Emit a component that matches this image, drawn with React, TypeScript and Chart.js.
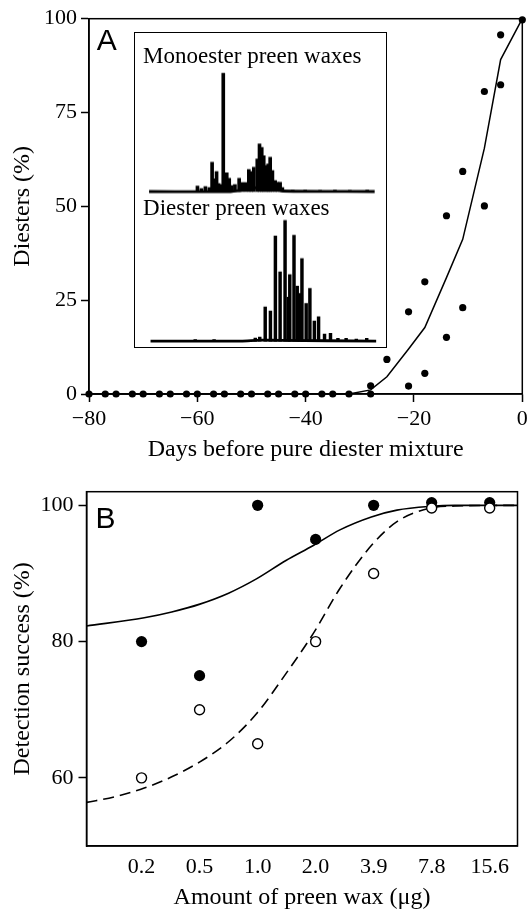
import React, { useEffect, useRef } from "react";
import { Chart, registerables } from "chart.js";

Chart.register(...registerables);

const SERIF = "'Liberation Serif', 'Times New Roman', Times, serif";
const SANS = "'Liberation Sans', Arial, Helvetica, sans-serif";

// ---------- Panel A: diesters over time ----------
const obsDays = [
  -80, -77, -75, -72, -70, -67, -65, -62, -60, -57, -55, -52, -50, -47, -45, -42, -40, -37, -35, -32,
  -28, -28, -25, -21, -21, -18, -18, -14, -14, -11, -11, -7, -7, -4, -4, 0,
];
const obsDiesters = [
  0, 0, 0, 0, 0, 0, 0, 0, 0, 0, 0, 0, 0, 0, 0, 0, 0, 0, 0, 0,
  0, 2.2, 9.2, 21.9, 2.1, 29.9, 5.5, 47.5, 15.1, 59.3, 23.0, 80.6, 50.1, 95.7, 82.4, 99.7,
];
const fitDays = [-80, -32, -28, -25, -21, -18, -14, -11, -7, -4, 0];
const fitDiesters = [0, 0, 1.1, 4.6, 12.0, 17.7, 31.0, 41.2, 65.5, 89.1, 100];
const dayTicks = [-80, -60, -40, -20, 0];
const diesterTicks = [0, 25, 50, 75, 100];

// ---------- Inset: chromatograms (retention position 0-100, relative intensity) ----------
const monoTimes = [
  24.6, 26.2, 27.8, 29.4, 30.5, 31.5, 32.3, 33.1, 33.9, 35.0, 36.4, 37.4, 38.4, 39.7, 41.4, 42.7,
  44.0, 45.3, 46.3, 47.3, 48.7, 49.6, 50.5, 51.3, 52.3, 53.1, 53.9, 54.8, 55.9, 56.8, 57.9, 58.8,
  63, 68, 74, 80, 86, 93,
];
const monoIntensity = [
  4.5, 2.5, 4.2, 3.4, 24.7, 10.7, 16.8, 6.7, 5.9, 100, 15.8, 11.2, 5.1, 5.9, 11.2, 7.6,
  7.6, 18.5, 16.8, 20.5, 27.5, 40.2, 37.3, 30.3, 21.9, 23.3, 28.9, 17.7, 9.3, 7.8, 7.8, 3.4,
  1.2, 1.2, 1.0, 1.2, 1.0, 1.2,
];
const monoBaseTimes = [5.1, 38, 42, 46, 49, 51, 53, 56, 59, 96.0];
const monoBaseLevel = [0, 0, 1.0, 2.2, 3.4, 3.6, 3.0, 1.8, 0.4, 0];

const diTimes = [
  23.7, 31.3, 47.9, 49.7, 51.9, 54.0, 56.0, 57.9, 59.9, 61.2, 61.8, 63.5, 64.8, 65.7, 66.7,
  68.4, 69.9, 71.7, 73.4, 75.8, 78.2, 81.2, 84.5, 88.6, 92.8,
];
const diIntensity = [
  1.2, 1.2, 2.5, 3.3, 28.3, 25, 87, 57.3, 100, 36.4, 55.1, 87.6, 45.5, 39.4, 68.3,
  31.2, 43.6, 16.5, 20.1, 5.8, 6.4, 2.2, 2.2, 1.7, 2.2,
];
const diBaseTimes = [5.7, 42, 50, 58, 96.6];
const diBaseLevel = [0, 0, 0.8, 0.5, 0];

// ---------- Panel B: detection success ----------
const doses = [0.244, 0.488, 0.977, 1.953, 3.906, 7.813, 15.625];
const doseLabels = ["0.2", "0.5", "1.0", "2.0", "3.9", "7.8", "15.6"];
const detectionFilled = [80, 75, 100, 95, 100, 100.4, 100.4];
const detectionOpen = [60, 70, 65, 80, 90, 99.6, 99.6];
const solidCurveX = [0.1264, 0.252, 0.35, 0.49, 0.69, 0.963, 1.37, 1.9, 2.61, 3.8, 5.16, 7.7, 10.3, 21.79];
const solidCurveY = [82.3, 83.5, 84.35, 85.5, 87.1, 89.2, 91.9, 94.1, 96.4, 98.3, 99.3, 99.85, 100, 100];
const dashedCurveX = [0.1264, 0.176, 0.252, 0.35, 0.49, 0.69, 0.963, 1.37, 1.9, 2.61, 3.8, 5.16, 7.7, 10.3, 21.79];
const dashedCurveY = [56.4, 57.2, 58.5, 60.15, 62.35, 65.3, 69.4, 75.3, 81.2, 87.8, 94.1, 97.6, 99.6, 99.9, 100];
const successTicks = [60, 80, 100];

const pairs = (xs: number[], ys: number[]) => xs.map((x, i) => ({ x, y: ys[i] }));

const framePlugin = {
  id: "frame",
  beforeDatasetsDraw(chart: any) {
    const { ctx, chartArea: a } = chart;
    ctx.save();
    ctx.strokeStyle = "#000";
    ctx.lineWidth = 1.5;
    ctx.strokeRect(a.left, a.top, a.right - a.left, a.bottom - a.top);
    ctx.restore();
  },
};

const tickGrid = {
  drawOnChartArea: false,
  drawTicks: true,
  tickLength: 8,
  tickWidth: 1.5,
  tickColor: "#000",
  color: "#000",
};
const axisBorder = { display: true, color: "#000", width: 1.5 };
const tickFont = { family: SERIF, size: 22 };
const titleFont = { family: SERIF, size: 24 };
const minusFmt = (v: number) => (v < 0 ? "\u2212" + Math.abs(v) : String(v));

export default function App() {
  const aRef = useRef<HTMLCanvasElement>(null);
  const bRef = useRef<HTMLCanvasElement>(null);
  const iRef = useRef<HTMLCanvasElement>(null);

  useEffect(() => {
    document.body.style.margin = "0";
    document.body.style.overflow = "hidden";
    const charts: Chart[] = [];

    charts.push(
      new Chart(aRef.current!, {
        type: "scatter",
        data: {
          datasets: [
            {
              type: "scatter",
              data: pairs(obsDays, obsDiesters),
              pointRadius: 3.6,
              pointBackgroundColor: "#000",
              pointBorderWidth: 0,
              clip: false,
              order: 0,
            } as any,
            {
              type: "line",
              data: pairs(fitDays, fitDiesters),
              borderColor: "#000",
              borderWidth: 1.5,
              pointRadius: 0,
              tension: 0,
              clip: false,
              order: 1,
            } as any,
          ],
        },
        options: {
          animation: false,
          responsive: true,
          maintainAspectRatio: false,
          layout: { padding: { top: 18.7, right: 5.7, bottom: 0, left: 0 } },
          plugins: { legend: { display: false }, tooltip: { enabled: false } },
          scales: {
            x: {
              type: "linear",
              min: -80,
              max: 0,
              afterBuildTicks: (s: any) => {
                s.ticks = dayTicks.map((v) => ({ value: v }));
              },
              afterFit: (s: any) => {
                s.height = 86;
                s.paddingLeft = 0;
                s.paddingRight = 0;
              },
              grid: tickGrid,
              border: axisBorder,
              ticks: {
                color: "#000",
                font: tickFont,
                padding: 4,
                maxRotation: 0,
                autoSkip: false,
                callback: (v: any) => minusFmt(Number(v)),
              },
              title: {
                display: true,
                text: "Days before pure diester mixture",
                color: "#000",
                font: titleFont,
                padding: { top: 0, bottom: 16 },
              },
            },
            y: {
              type: "linear",
              min: 0,
              max: 100,
              afterBuildTicks: (s: any) => {
                s.ticks = diesterTicks.map((v) => ({ value: v }));
              },
              afterFit: (s: any) => {
                s.width = 89;
                s.paddingTop = 0;
                s.paddingBottom = 0;
              },
              grid: tickGrid,
              border: axisBorder,
              ticks: { color: "#000", font: tickFont, padding: 4, autoSkip: false },
              title: {
                display: true,
                text: "Diesters (%)",
                color: "#000",
                font: titleFont,
                padding: { top: 8, bottom: 0 },
              },
            },
          },
        } as any,
        plugins: [framePlugin],
      })
    );

    charts.push(
      new Chart(iRef.current!, {
        type: "bar",
        data: {
          datasets: [
            {
              type: "bar",
              data: pairs(monoTimes, monoIntensity),
              yAxisID: "yMono",
              backgroundColor: "#000",
              barThickness: 3,
              grouped: false,
            } as any,
            {
              type: "bar",
              data: pairs(diTimes, diIntensity),
              yAxisID: "yDi",
              backgroundColor: "#000",
              barThickness: 2.8,
              grouped: false,
            } as any,
            {
              type: "line",
              data: pairs(monoBaseTimes, monoBaseLevel),
              yAxisID: "yMono",
              borderColor: "#000",
              borderWidth: 2.8,
              pointRadius: 0,
              tension: 0.3,
            } as any,
            {
              type: "line",
              data: pairs(diBaseTimes, diBaseLevel),
              yAxisID: "yDi",
              borderColor: "#000",
              borderWidth: 2.8,
              pointRadius: 0,
              tension: 0.3,
            } as any,
          ],
        },
        options: {
          animation: false,
          responsive: true,
          maintainAspectRatio: false,
          layout: { padding: 0 },
          plugins: { legend: { display: false }, tooltip: { enabled: false } },
          scales: {
            x: { type: "linear", min: 0, max: 100, offset: false, display: false },
            yMono: { type: "linear", min: -130.6, max: 132.7, display: false },
            yDi: { type: "linear", min: -4.2, max: 254.1, display: false },
          },
        } as any,
      })
    );

    charts.push(
      new Chart(bRef.current!, {
        type: "scatter",
        data: {
          datasets: [
            {
              type: "scatter",
              data: pairs(doses, detectionOpen),
              pointRadius: 5,
              pointBackgroundColor: "#fff",
              pointBorderColor: "#000",
              pointBorderWidth: 1.4,
              clip: false,
              order: 0,
            } as any,
            {
              type: "scatter",
              data: pairs(doses, detectionFilled),
              pointRadius: 5.6,
              pointBackgroundColor: "#000",
              pointBorderWidth: 0,
              clip: false,
              order: 1,
            } as any,
            {
              type: "line",
              data: pairs(solidCurveX, solidCurveY),
              borderColor: "#000",
              borderWidth: 1.6,
              pointRadius: 0,
              cubicInterpolationMode: "monotone",
              order: 2,
            } as any,
            {
              type: "line",
              data: pairs(dashedCurveX, dashedCurveY),
              borderColor: "#000",
              borderWidth: 1.6,
              borderDash: [11, 6],
              pointRadius: 0,
              cubicInterpolationMode: "monotone",
              order: 3,
            } as any,
          ],
        },
        options: {
          animation: false,
          responsive: true,
          maintainAspectRatio: false,
          layout: { padding: { top: 31.7, right: 10.5, bottom: 0, left: 0 } },
          plugins: { legend: { display: false }, tooltip: { enabled: false } },
          scales: {
            x: {
              type: "logarithmic",
              min: 0.1264,
              max: 21.79,
              bounds: "data",
              afterBuildTicks: (s: any) => {
                s.ticks = doses.map((v) => ({ value: v }));
              },
              afterFit: (s: any) => {
                s.height = 70;
                s.paddingLeft = 0;
                s.paddingRight = 0;
              },
              grid: { display: false, drawTicks: false },
              border: axisBorder,
              ticks: {
                color: "#000",
                font: tickFont,
                padding: 8,
                maxRotation: 0,
                autoSkip: false,
                callback: (_v: any, i: number) => doseLabels[i],
              },
              title: {
                display: true,
                text: "Amount of preen wax (\u03bcg)",
                color: "#000",
                font: titleFont,
                padding: { top: 0, bottom: 4 },
              },
            },
            y: {
              type: "linear",
              min: 50,
              max: 102,
              afterBuildTicks: (s: any) => {
                s.ticks = successTicks.map((v) => ({ value: v }));
              },
              afterFit: (s: any) => {
                s.width = 86.5;
                s.paddingTop = 0;
                s.paddingBottom = 0;
              },
              grid: tickGrid,
              border: axisBorder,
              ticks: { color: "#000", font: tickFont, padding: 5, autoSkip: false },
              title: {
                display: true,
                text: "Detection success (%)",
                color: "#000",
                font: titleFont,
                padding: { top: 8, bottom: 0 },
              },
            },
          },
        } as any,
        plugins: [framePlugin],
      })
    );

    return () => charts.forEach((c) => c.destroy());
  }, []);

  const abs = (l: number, t: number, w: number, h: number): React.CSSProperties => ({
    position: "absolute",
    left: l,
    top: t,
    width: w,
    height: h,
  });
  const panelLabel: React.CSSProperties = {
    position: "absolute",
    fontFamily: SANS,
    fontSize: 30,
    lineHeight: 1,
    color: "#000",
    whiteSpace: "nowrap",
  };
  const insetTitle: React.CSSProperties = {
    position: "absolute",
    left: 8.6,
    fontFamily: SERIF,
    fontSize: 23,
    lineHeight: 1,
    color: "#000",
    whiteSpace: "nowrap",
  };

  return (
    <div style={{ position: "absolute", left: 0, top: 0, width: 528, height: 916, background: "#fff", overflow: "hidden" }}>
      <div style={abs(0, 0, 528, 480)}>
        <canvas ref={aRef} />
      </div>
      <div style={abs(0, 460, 528, 456)}>
        <canvas ref={bRef} />
      </div>
      <div style={{ ...panelLabel, left: 96.7, top: 24.6 }}>A</div>
      <div style={{ ...panelLabel, left: 95.4, top: 502.9 }}>B</div>
      <div
        style={{
          ...abs(133.5, 32, 253, 315.5),
          boxSizing: "border-box",
          border: "1.5px solid #000",
          background: "#fff",
        }}
      >
        <div style={{ position: "absolute", left: 0, top: 0, width: "100%", height: "100%" }}>
          <canvas ref={iRef} />
        </div>
        <div style={{ ...insetTitle, top: 11.2 }}>Monoester preen waxes</div>
        <div style={{ ...insetTitle, top: 163.2 }}>Diester preen waxes</div>
      </div>
    </div>
  );
}
